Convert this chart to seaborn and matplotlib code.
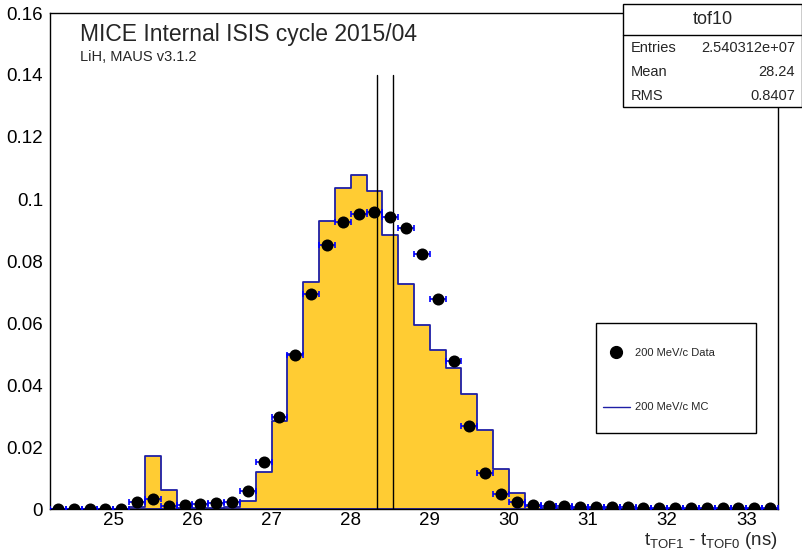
import numpy as np
import pandas as pd
import matplotlib
matplotlib.use("Agg")
import matplotlib.pyplot as plt
import seaborn as sns
from matplotlib.patches import Rectangle
from matplotlib.lines import Line2D
from matplotlib.ticker import MultipleLocator, FormatStrFormatter

# ------------------------------------------------------------------
# data (46 bins of 0.2 ns, 24.2 -> 33.4 ns)
# ------------------------------------------------------------------
tof_lo, tof_hi, bin_w = 24.2, 33.4, 0.2

mc_200 = [0.0, 0.0, 0.0, 0.0, 0.0,
          0.0008, 0.0171, 0.0061, 0.0003, 0.0003, 0.0003, 0.0005, 0.0027, 0.0120,
          0.0284, 0.0500, 0.0732, 0.0928, 0.1035, 0.1076, 0.1025, 0.0885, 0.0726, 0.0594,
          0.0513, 0.0456, 0.0371, 0.0255, 0.0129, 0.0050, 0.0010, 0.0004, 0.0002, 0.0002,
          0.0002, 0.0002, 0.0001, 0.0001, 0.0001, 0.0001, 0.0001, 0.0001, 0.0001, 0.0001,
          0.0001, 0.0001]

data_200 = [0.0, 0.0, 0.0, 0.0, 0.0001,
            0.0024, 0.0033, 0.0009, 0.0013, 0.0015, 0.0018, 0.0023, 0.0058, 0.0151,
            0.0297, 0.0497, 0.0693, 0.0851, 0.0926, 0.0951, 0.0957, 0.0943, 0.0908, 0.0822,
            0.0676, 0.0478, 0.0268, 0.0116, 0.0047, 0.0022, 0.0014, 0.0011, 0.0009, 0.0007,
            0.0006, 0.0005, 0.0005, 0.0004, 0.0004, 0.0004, 0.0003, 0.0003, 0.0003, 0.0003,
            0.0003, 0.0003]

cut_lines = [28.33, 28.53]
cut_top = 0.14

stats_rows = [("Entries", "2.540312e+07"), ("Mean", "28.24"), ("RMS", "0.8407")]

edges = np.linspace(tof_lo, tof_hi, len(mc_200) + 1)
centers = 0.5 * (edges[:-1] + edges[1:])
df = pd.DataFrame({'tof': centers, 'mc': mc_200, 'data': data_200})

# ------------------------------------------------------------------
sns.set_theme(style="white")
plt.rcParams['font.family'] = ['Liberation Sans', 'DejaVu Sans']
plt.rcParams['mathtext.fontset'] = 'custom'
plt.rcParams['mathtext.rm'] = 'Liberation Sans'
plt.rcParams['mathtext.it'] = 'Liberation Sans'

W, H = 803, 554
fig = plt.figure(figsize=(W / 100, H / 100), dpi=100)
ax = fig.add_axes([50 / W, 1 - 509 / H, 728 / W, 496 / H])

orange = '#FFCC33'
navy = '#1f1fa6'

sns.histplot(data=df, x='tof', weights='mc', bins=list(edges), element='step', fill=True,
             color=orange, alpha=1.0, edgecolor=navy, linewidth=1.3, ax=ax, zorder=1)

ax.errorbar(df['tof'], df['data'], xerr=bin_w / 2, fmt='none', ecolor='#0000ff',
            elinewidth=1.2, capsize=2.2, capthick=1.2, zorder=3)
sns.scatterplot(data=df, x='tof', y='data', color='black', s=75, edgecolor='black',
                linewidth=0, ax=ax, zorder=4)

for xc in cut_lines:
    ax.plot([xc, xc], [0, cut_top], color='black', lw=1.0, zorder=5)

ax.set_xlim(tof_lo, tof_hi)
ax.set_ylim(0, 0.16)
ax.set_xlabel('')
ax.set_ylabel('')

ax.xaxis.set_major_locator(MultipleLocator(1))
ax.xaxis.set_minor_locator(MultipleLocator(0.2))
ax.yaxis.set_major_locator(MultipleLocator(0.02))
ax.yaxis.set_minor_locator(MultipleLocator(0.004))
ax.xaxis.set_major_formatter(FormatStrFormatter('%g'))
ax.yaxis.set_major_formatter(FormatStrFormatter('%g'))

ax.tick_params(axis='both', which='both', direction='in', colors='black',
               top=False, right=False, labelsize=13.5)
ax.tick_params(axis='x', which='major', length=10.5, width=1, pad=2.5)
ax.tick_params(axis='x', which='minor', length=5, width=1)
ax.tick_params(axis='y', which='major', length=9, width=1, pad=5)
ax.tick_params(axis='y', which='minor', length=4.5, width=1)
for sp in ax.spines.values():
    sp.set_color('black')
    sp.set_linewidth(1.0)
    sp.set_visible(True)

# header texts inside the frame
fig.text(80 / W, 1 - 35 / H, 'MICE Internal ISIS cycle 2015/04', fontsize=16.5,
         ha='left', va='center')
fig.text(80 / W, 1 - 57 / H, 'LiH, MAUS v3.1.2', fontsize=10.5,
         ha='left', va='center')

# axis title (bottom right)
fig.text(778 / W, 3 / H,
         r'$\mathregular{t_{TOF1}}$ - $\mathregular{t_{TOF0}}$ (ns)',
         fontsize=13.5, ha='right', va='bottom')

# legend box
bx0, by0, bx1, by1 = 596, 323, 756, 433
fig.patches.append(Rectangle((bx0 / W, 1 - by1 / H), (bx1 - bx0) / W, (by1 - by0) / H,
                             transform=fig.transFigure, facecolor='white',
                             edgecolor='black', lw=1.0, zorder=10))
fig.lines.append(Line2D([616 / W], [1 - 352 / H], marker='o', ms=8.5, color='black',
                        transform=fig.transFigure, zorder=11))
fig.lines.append(Line2D([603 / W, 630 / W], [1 - 407 / H, 1 - 407 / H], color=navy,
                        lw=1.0, transform=fig.transFigure, zorder=11))
fig.text(635 / W, 1 - 353 / H, '200 MeV/c Data', fontsize=8, ha='left', va='center', zorder=12)
fig.text(635 / W, 1 - 407 / H, '200 MeV/c MC', fontsize=8, ha='left', va='center', zorder=12)

# stats box
sx0, sy0, sx1, sy1 = 623, 4, 802, 107
fig.patches.append(Rectangle((sx0 / W, 1 - sy1 / H), (sx1 - sx0) / W, (sy1 - sy0) / H,
                             transform=fig.transFigure, facecolor='white',
                             edgecolor='black', lw=1.0, zorder=10))
fig.lines.append(Line2D([sx0 / W, sx1 / W], [1 - 35 / H, 1 - 35 / H], color='black',
                        lw=1.0, transform=fig.transFigure, zorder=11))
fig.text((sx0 + sx1) / 2 / W, 1 - 20 / H, 'tof10', fontsize=13, ha='center', va='center', zorder=12)
for i, (lab, val) in enumerate(stats_rows):
    yy = 1 - (48 + 24 * i) / H
    fig.text(631 / W, yy, lab, fontsize=10.5, ha='left', va='center', zorder=12)
    fig.text(795 / W, yy, val, fontsize=10.5, ha='right', va='center', zorder=12)

fig.savefig('out.png', dpi=100)
